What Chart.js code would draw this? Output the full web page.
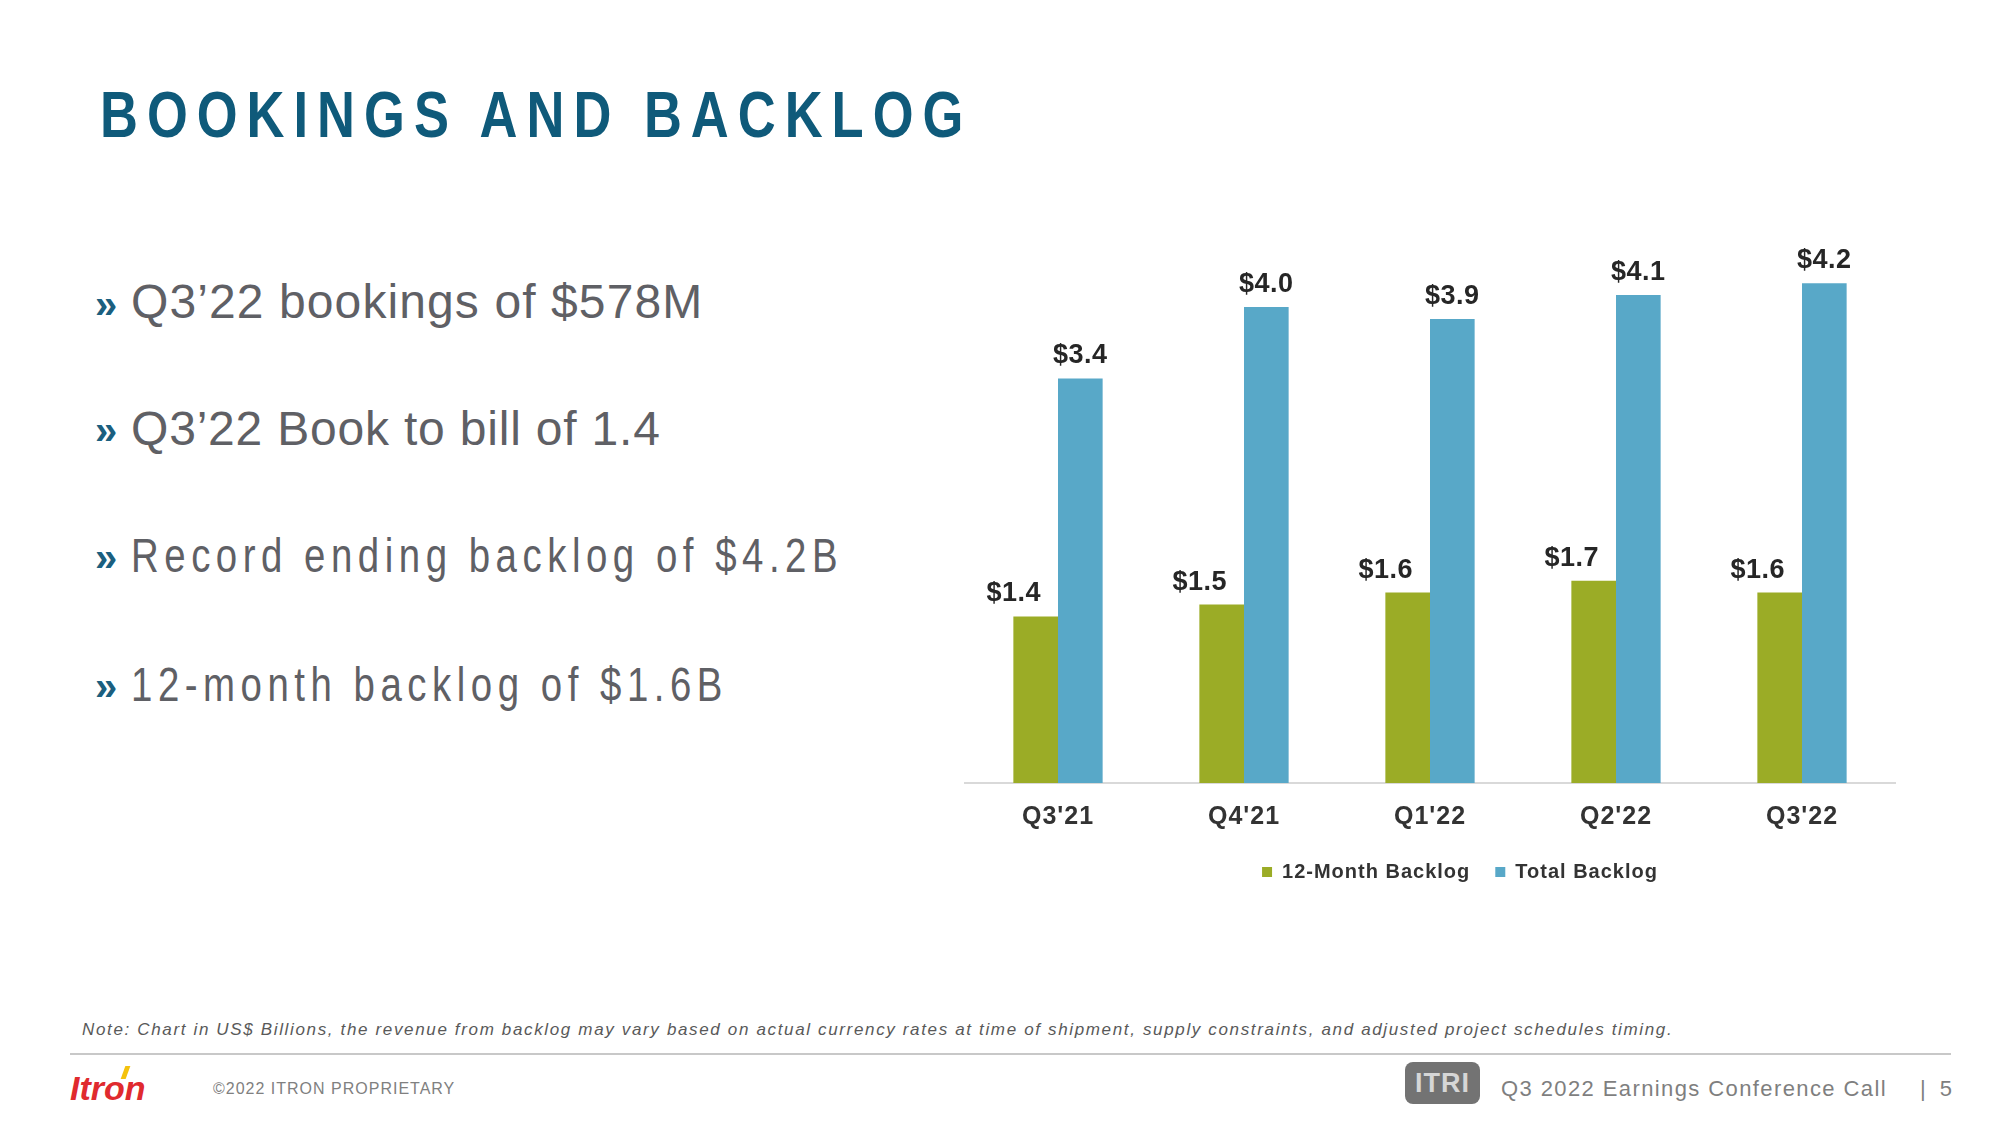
<!DOCTYPE html>
<html>
<head>
<meta charset="utf-8">
<title>Bookings and Backlog</title>
<script src="https://cdn.jsdelivr.net/npm/chart.js@4.4.1/dist/chart.umd.min.js"></script>
<style>
  html, body { margin: 0; padding: 0; background: #fff; }
  body { width: 2000px; height: 1126px; position: relative; overflow: hidden;
         font-family: 'Liberation Sans', Arial, sans-serif; }
  .t { position: absolute; white-space: nowrap; line-height: 1; }
  #title { left: 100px; top: 83px; font-size: 64px; font-weight: bold; color: #0f5a7a; letter-spacing: 11px;
           transform: scaleX(0.82); transform-origin: 0 0; }
  .chev { position: absolute; left: 95px; font-size: 40px; font-weight: bold; color: #1b5f7f; line-height: 1; }
  .bullet { left: 131px; font-size: 48px; color: #5f6065; }
  .narrow { letter-spacing: 6.9px; transform: scaleX(0.8); transform-origin: 0 0; }
  #note { left: 82px; top: 1021px; font-size: 17px; font-style: italic; color: #595959; letter-spacing: 1.65px; }
  #rule { position: absolute; left: 70px; top: 1053px; width: 1881px; height: 2px; background: #c8c8c8; }
  #logo { left: 70px; top: 1071px; font-size: 34px; font-weight: bold; font-style: italic; color: #e02a2e; }
  #flash { position: absolute; left: 123px; top: 1066px; width: 5px; height: 13px; background: #f4c20d; transform: skewX(-20deg); }
  #copy { left: 213px; top: 1081px; font-size: 16px; color: #808080; letter-spacing: 1px; }
  #badge { position: absolute; left: 1405px; top: 1062px; width: 75px; height: 42px; border-radius: 8px;
           background: #737373; color: #d6d6d6; font-weight: bold; font-size: 27px; letter-spacing: 1px;
           text-align: center; line-height: 42px; }
  #conf { left: 1501px; top: 1078px; font-size: 22px; color: #7f7f7f; letter-spacing: 1.4px; }
  #page { left: 1920px; top: 1078px; font-size: 22px; color: #7f7f7f; letter-spacing: 4px; }
  #backlog { position: absolute; left: 940px; top: 150px; }
</style>
</head>
<body>
<div class="t" id="title">BOOKINGS AND BACKLOG</div>

<div class="chev" style="top:284px">»</div>
<div class="t bullet" style="top:278px; letter-spacing:1.1px">Q3’22 bookings of $578M</div>
<div class="chev" style="top:410px">»</div>
<div class="t bullet" style="top:405px; letter-spacing:0.8px">Q3’22 Book to bill of 1.4</div>
<div class="chev" style="top:537px">»</div>
<div class="t bullet narrow" style="top:532px">Record ending backlog of $4.2B</div>
<div class="chev" style="top:666px">»</div>
<div class="t bullet narrow" style="top:661px">12-month backlog of $1.6B</div>

<canvas id="backlog" width="980" height="756"></canvas>

<div class="t" id="note">Note: Chart in US$ Billions, the revenue from backlog may vary based on actual currency rates at time of shipment, supply constraints, and adjusted project schedules timing.</div>
<div id="rule"></div>
<div class="t" id="logo">Itron</div>
<div id="flash"></div>
<div class="t" id="copy">©2022 ITRON PROPRIETARY</div>
<div id="badge">ITRI</div>
<div class="t" id="conf">Q3 2022 Earnings Conference Call</div>
<div class="t" id="page">| 5</div>

<script>
// Datos del gráfico (US$ miles de millones)
const quarters = ["Q3'21", "Q4'21", "Q1'22", "Q2'22", "Q3'22"];
const twelveMonth = [1.4, 1.5, 1.6, 1.7, 1.6];
const totalBacklog = [3.4, 4.0, 3.9, 4.1, 4.2];
const seriesNames = ['12-Month Backlog', 'Total Backlog'];

const green = '#9bac26';
const blue = '#58a8c8';

// espaciado de letras en el canvas
const spacing = {
  id: 'spacing',
  beforeUpdate(chart) { chart.ctx.letterSpacing = '1px'; },
  beforeDraw(chart) { chart.ctx.letterSpacing = '1px'; }
};

// mover la leyenda (a la derecha y hacia arriba)
const legendShift = {
  id: 'legendShift',
  afterLayout(chart) {
    const lg = chart.legend;
    lg.left += 30;
    lg.right += 30;
    lg.top -= 14;
    lg.bottom -= 14;
  }
};

// etiquetas de valor encima de cada barra
const valueLabels = {
  id: 'valueLabels',
  afterDatasetsDraw(chart) {
    const ctx = chart.ctx;
    ctx.save();
    ctx.letterSpacing = '0.5px';
    ctx.font = "bold 27px 'Liberation Sans', Arial, sans-serif";
    ctx.fillStyle = '#262626';
    ctx.textAlign = 'center';
    ctx.textBaseline = 'alphabetic';
    chart.data.datasets.forEach((ds, i) => {
      const meta = chart.getDatasetMeta(i);
      meta.data.forEach((bar, j) => {
        const dx = i === 0 ? -22 : 0;
        ctx.fillText('$' + ds.data[j].toFixed(1), bar.x + dx, bar.y - 15);
      });
    });
    ctx.restore();
  }
};

const config = {
  type: 'bar',
  data: {
    labels: quarters,
    datasets: [
      { label: seriesNames[0], data: twelveMonth, backgroundColor: green },
      { label: seriesNames[1], data: totalBacklog, backgroundColor: blue }
    ]
  },
  options: {
    responsive: false,
    animation: false,
    devicePixelRatio: 1,
    datasets: { bar: { categoryPercentage: 0.48, barPercentage: 1 } },
    layout: { padding: { left: 25, right: 25, top: 38, bottom: 0 } },
    scales: {
      x: {
        grid: { display: false, drawTicks: false },
        border: { display: true, color: '#d9d9d9', width: 2 },
        ticks: { color: '#333333', padding: 19, font: { size: 25, weight: 'bold' } }
      },
      y: { display: false, min: 0, max: 5 }
    },
    plugins: {
      legend: {
        position: 'bottom',
        labels: { boxWidth: 10, boxHeight: 10, padding: 25, color: '#333333',
                  font: { size: 20, weight: 'bold' } }
      },
      tooltip: { enabled: false }
    }
  },
  plugins: [spacing, legendShift, valueLabels]
};

Chart.defaults.font.family = "'Liberation Sans', Arial, sans-serif";
const ctxBar = document.getElementById('backlog').getContext('2d');
new Chart(ctxBar, config);
</script>
</body>
</html>
